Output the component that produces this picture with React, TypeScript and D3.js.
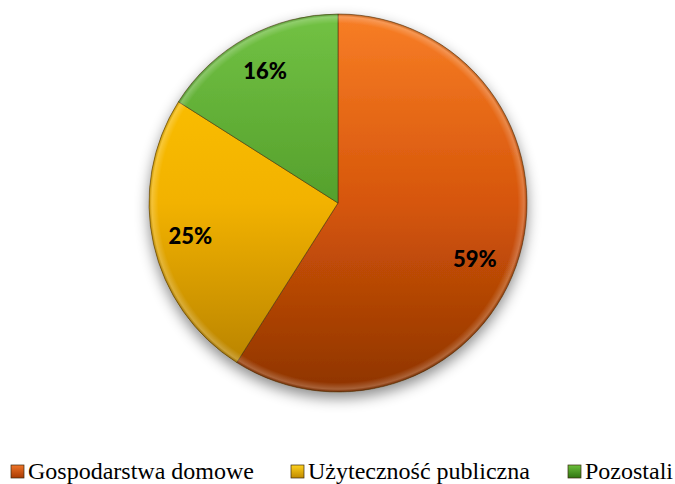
import React from "react";
import * as d3 from "d3";

const categories = ["Gospodarstwa domowe", "Użyteczność publiczna", "Pozostali"];
const values = [59, 25, 16];
const labels = ["59%", "25%", "16%"];
const topColors = ["#F87E26", "#FFC500", "#72C244"];
const midColors = ["#D6560A", "#F2B200", "#55A02C"];
const bottomColors = ["#8E3400", "#B07C00", "#356E12"];
const legendTop = ["#F07428", "#FFD21E", "#6CC03C"];
const legendBottom = ["#A83A02", "#C08A00", "#2F7410"];

const W = 675;
const H = 484;
const cx = 338;
const cy = 203;
const R = 189;

export default function App() {
  const pie = d3.pie<number>().sort(null).value((d) => d);
  const arcs = pie(values);
  const arc = d3.arc<d3.PieArcDatum<number>>().innerRadius(0).outerRadius(R);
  const legendX = [11, 291, 568];

  const labelPos = (a: d3.PieArcDatum<number>, i: number) => {
    let ang = (a.startAngle + a.endAngle) / 2;
    let r = R * 0.8;
    if (i === 0) {
      ang += 0.1;
      r = R * 0.78;
    }
    return [r * Math.sin(ang), -r * Math.cos(ang)];
  };

  return (
    <svg width={W} height={H} style={{ position: "absolute", left: 0, top: 0 }}>
      <defs>
        {arcs.map((a, i) => (
          <linearGradient key={i} id={`g${i}`} gradientUnits="userSpaceOnUse" x1={0} y1={-R} x2={0} y2={R}>
            <stop offset="0" stopColor={topColors[i]} />
            <stop offset="0.5" stopColor={midColors[i]} />
            <stop offset="1" stopColor={bottomColors[i]} />
          </linearGradient>
        ))}
        {categories.map((c, i) => (
          <linearGradient key={"lg" + i} id={`lgr${i}`} x1={0} y1={0} x2={0} y2={1}>
            <stop offset="0" stopColor={legendTop[i]} />
            <stop offset="1" stopColor={legendBottom[i]} />
          </linearGradient>
        ))}
        <radialGradient id="bevel" gradientUnits="userSpaceOnUse" cx={0} cy={0} r={R}>
          <stop offset="0.95" stopColor="#fff" stopOpacity="0" />
          <stop offset="0.985" stopColor="#fff" stopOpacity="0.22" />
          <stop offset="1" stopColor="#000" stopOpacity="0.2" />
        </radialGradient>
        <filter id="shadow" x="-20%" y="-20%" width="140%" height="140%">
          <feDropShadow dx="0" dy="6" stdDeviation="7" floodColor="#000" floodOpacity="0.45" />
        </filter>
      </defs>
      <g transform={`translate(${cx},${cy})`}>
        <g filter="url(#shadow)">
          {arcs.map((a, i) => (
            <path key={i} d={arc(a) || ""} fill={`url(#g${i})`} stroke="#4a300c" strokeOpacity={0.7} strokeWidth={0.8} />
          ))}
        </g>
        {arcs.map((a, i) => (
          <path key={"b" + i} d={arc(a) || ""} fill="url(#bevel)" />
        ))}
        {arcs.map((a, i) => {
          const [x, y] = labelPos(a, i);
          return (
            <text key={"l" + i} x={x} y={y} textAnchor="middle" dominantBaseline="central"
              style={{ fontFamily: "Lato, 'Open Sans', sans-serif", fontWeight: 900, fontSize: 22 }} fill="#000">
              {labels[i]}
            </text>
          );
        })}
      </g>
      {categories.map((c, i) => (
        <g key={"lg" + i}>
          <rect x={legendX[i]} y={465} width={13} height={13} fill={`url(#lgr${i})`} stroke="#3a2a10" strokeWidth={0.7} />
          <text x={legendX[i] + 17} y={478.5}
            style={{ fontFamily: "'Liberation Serif', 'Times New Roman', serif", fontSize: 24 }} fill="#000">
            {c}
          </text>
        </g>
      ))}
    </svg>
  );
}
